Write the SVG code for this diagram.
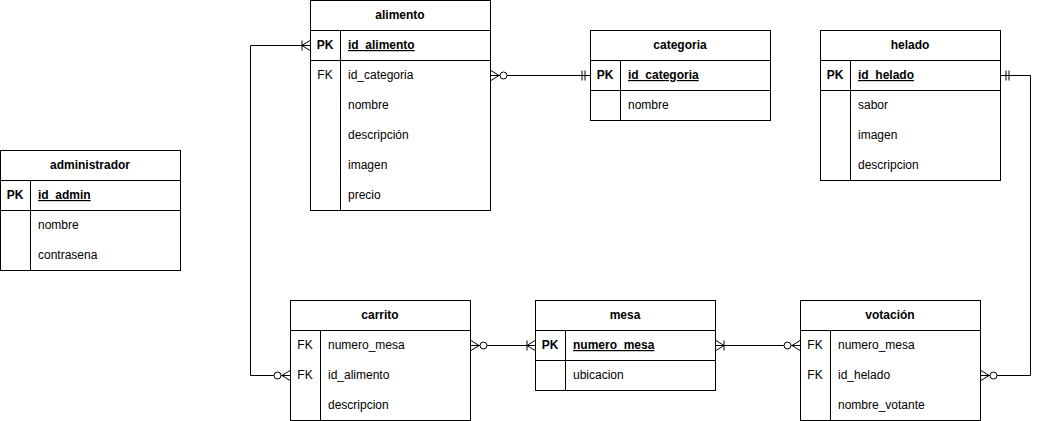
<svg xmlns="http://www.w3.org/2000/svg" width="1040" height="421" viewBox="0 0 1040 421">
<style>
.box{fill:#fff;stroke:#000;stroke-width:1}
.ln{stroke:#000;stroke-width:1;fill:none}
text{font-family:"Liberation Sans",Arial,Helvetica,sans-serif;font-size:12px;fill:#000}
.h{font-weight:bold;text-anchor:middle}
.k{text-anchor:middle}
.kb{font-weight:bold;text-anchor:middle}
.pk{font-weight:bold;text-decoration:underline}
.c{stroke:#000;stroke-width:1;fill:none}
</style>
<defs>
<marker id="zeroMany" markerUnits="userSpaceOnUse" orient="auto-start-reverse" overflow="visible" refX="0" refY="0" markerWidth="1" markerHeight="1">
<path d="M-8,0 L0,-5 M-8,0 L0,5" fill="none" stroke="#000"/>
<circle cx="-12.5" cy="0" r="3.5" fill="#fff" stroke="#000"/>
</marker>
<marker id="oneMany" markerUnits="userSpaceOnUse" orient="auto-start-reverse" overflow="visible" refX="0" refY="0" markerWidth="1" markerHeight="1">
<path d="M-8,0 L0,-5 M-8,0 L0,5 M-8,-5 L-8,5" fill="none" stroke="#000"/>
</marker>
<marker id="mandOne" markerUnits="userSpaceOnUse" orient="auto-start-reverse" overflow="visible" refX="0" refY="0" markerWidth="1" markerHeight="1">
<path d="M-5,-5 L-5,5 M-8,-5 L-8,5" fill="none" stroke="#000"/>
</marker>
</defs>

<g id="alimento">
<rect class="box" x="310.5" y="0.5" width="180" height="210"/>
<line class="ln" x1="310.5" y1="30.5" x2="490.5" y2="30.5"/>
<line class="ln" x1="310.5" y1="60.5" x2="490.5" y2="60.5"/>
<line class="ln" x1="340.5" y1="30.5" x2="340.5" y2="210.5"/>
<text class="h" x="400" y="19">alimento</text>
<text class="kb" x="325" y="49">PK</text>
<text class="pk" x="348" y="49">id_alimento</text>
<text class="k" x="325" y="79">FK</text>
<text x="348" y="79">id_categoria</text>
<text x="348" y="109">nombre</text>
<text x="348" y="139">descripción</text>
<text x="348" y="169">imagen</text>
<text x="348" y="199">precio</text>
</g>

<g id="categoria">
<rect class="box" x="590.5" y="30.5" width="180" height="90"/>
<line class="ln" x1="590.5" y1="60.5" x2="770.5" y2="60.5"/>
<line class="ln" x1="590.5" y1="90.5" x2="770.5" y2="90.5"/>
<line class="ln" x1="620.5" y1="60.5" x2="620.5" y2="120.5"/>
<text class="h" x="680" y="49">categoria</text>
<text class="kb" x="605" y="79">PK</text>
<text class="pk" x="628" y="79">id_categoria</text>
<text x="628" y="109">nombre</text>
</g>

<g id="helado">
<rect class="box" x="820.5" y="30.5" width="180" height="150"/>
<line class="ln" x1="820.5" y1="60.5" x2="1000.5" y2="60.5"/>
<line class="ln" x1="820.5" y1="90.5" x2="1000.5" y2="90.5"/>
<line class="ln" x1="850.5" y1="60.5" x2="850.5" y2="180.5"/>
<text class="h" x="910" y="49">helado</text>
<text class="kb" x="835" y="79">PK</text>
<text class="pk" x="858" y="79">id_helado</text>
<text x="858" y="109">sabor</text>
<text x="858" y="139">imagen</text>
<text x="858" y="169">descripcion</text>
</g>

<g id="administrador">
<rect class="box" x="0.5" y="150.5" width="180" height="120"/>
<line class="ln" x1="0.5" y1="180.5" x2="180.5" y2="180.5"/>
<line class="ln" x1="0.5" y1="210.5" x2="180.5" y2="210.5"/>
<line class="ln" x1="30.5" y1="180.5" x2="30.5" y2="270.5"/>
<text class="h" x="90" y="169">administrador</text>
<text class="kb" x="15" y="199">PK</text>
<text class="pk" x="38" y="199">id_admin</text>
<text x="38" y="229">nombre</text>
<text x="38" y="259">contrasena</text>
</g>

<g id="carrito">
<rect class="box" x="290.5" y="300.5" width="180" height="120"/>
<line class="ln" x1="290.5" y1="330.5" x2="470.5" y2="330.5"/>
<line class="ln" x1="320.5" y1="330.5" x2="320.5" y2="420.5"/>
<text class="h" x="380" y="319">carrito</text>
<text class="k" x="305" y="349">FK</text>
<text x="328" y="349">numero_mesa</text>
<text class="k" x="305" y="379">FK</text>
<text x="328" y="379">id_alimento</text>
<text x="328" y="409">descripcion</text>
</g>

<g id="mesa">
<rect class="box" x="535.5" y="300.5" width="180" height="90"/>
<line class="ln" x1="535.5" y1="330.5" x2="715.5" y2="330.5"/>
<line class="ln" x1="535.5" y1="360.5" x2="715.5" y2="360.5"/>
<line class="ln" x1="565.5" y1="330.5" x2="565.5" y2="390.5"/>
<text class="h" x="625" y="319">mesa</text>
<text class="kb" x="550" y="349">PK</text>
<text class="pk" x="573" y="349">numero_mesa</text>
<text x="573" y="379">ubicacion</text>
</g>

<g id="votacion">
<rect class="box" x="800.5" y="300.5" width="180" height="120"/>
<line class="ln" x1="800.5" y1="330.5" x2="980.5" y2="330.5"/>
<line class="ln" x1="830.5" y1="330.5" x2="830.5" y2="420.5"/>
<text class="h" x="890" y="319">votación</text>
<text class="k" x="815" y="349">FK</text>
<text x="838" y="349">numero_mesa</text>
<text class="k" x="815" y="379">FK</text>
<text x="838" y="379">id_helado</text>
<text x="838" y="409">nombre_votante</text>
</g>

<g id="connectors">
<path class="c" d="M290,375.5 H250.5 V45.5 H310" marker-start="url(#zeroMany)" marker-end="url(#oneMany)"/>
<path class="c" d="M491,75.5 H590" marker-start="url(#zeroMany)" marker-end="url(#mandOne)"/>
<path class="c" d="M1001,75.5 H1030.5 V375.5 H981" marker-start="url(#mandOne)" marker-end="url(#zeroMany)"/>
<path class="c" d="M471,345.5 H535" marker-start="url(#zeroMany)" marker-end="url(#oneMany)"/>
<path class="c" d="M716,345.5 H800" marker-start="url(#oneMany)" marker-end="url(#zeroMany)"/>
</g>
</svg>
